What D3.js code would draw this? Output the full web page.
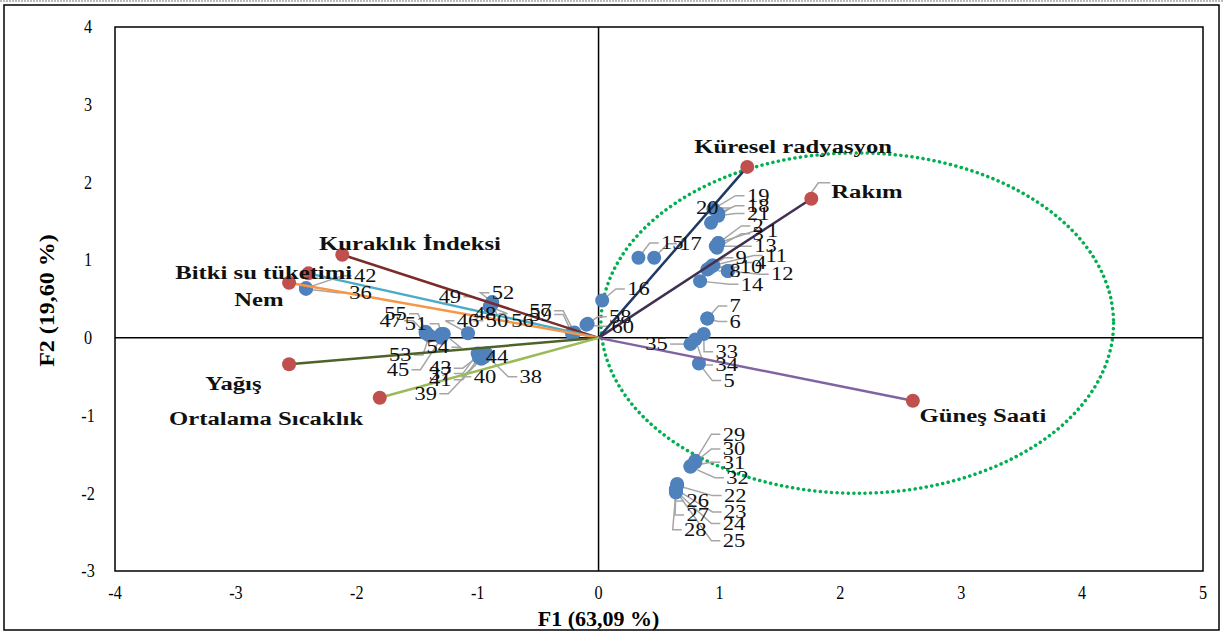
<!DOCTYPE html>
<html>
<head>
<meta charset="utf-8">
<script src="https://cdn.jsdelivr.net/npm/d3@7"></script>
<style>
  body { margin: 0; background: #fff; }
  text { font-family: "Liberation Serif", "Times New Roman", serif; }
</style>
</head>
<body>
<div id="chart"></div>
<script>
//Data

// observations (F1, F2) and their label anchors
var obsIds = d3.range(1, 61);
var obsF1 = [0.99,0.99,0.98,0.90,0.83,0.90,0.90,1.07,0.94,0.92,0.95,1.07,0.97,0.84,0.33,0.03,0.46,0.99,0.95,0.93,
             0.99,0.65,0.64,0.64,0.64,0.65,0.64,0.64,0.80,0.80,0.76,0.76,0.87,0.80,0.76,-2.42,-1.00,-0.93,-0.97,-0.95,
             -0.99,-2.42,-0.99,-0.93,-1.30,-1.08,-1.43,-0.90,-0.88,-0.90,-1.30,-0.88,-1.40,-1.28,-1.43,-0.88,-0.20,-0.09,-0.22,-0.10];
var obsF2 = [1.22,1.22,1.16,0.88,-0.33,0.25,0.25,0.86,0.93,0.90,0.93,0.86,1.18,0.73,1.03,0.48,1.03,1.60,1.66,1.48,
             1.57,-1.90,-1.95,-1.97,-1.97,-1.88,-1.95,-1.99,-1.58,-1.60,-1.65,-1.66,0.05,-0.02,-0.08,0.63,-0.20,-0.22,-0.27,-0.25,
             -0.25,0.64,-0.23,-0.20,0.00,0.06,0.06,0.40,0.44,0.40,0.05,0.46,0.03,0.05,0.08,0.44,0.07,0.18,0.06,0.17];
var obsLabelX = [1.44,1.32,1.32,1.34,1.08,1.13,1.13,1.13,1.18,1.26,1.47,1.52,1.38,1.27,0.61,0.33,0.76,1.32,1.32,0.90,
                 1.32,1.13,1.13,1.12,1.12,0.82,0.82,0.80,1.12,1.12,1.12,1.15,1.06,1.06,0.48,-1.97,-1.31,-0.56,-1.43,-0.94,
                 -1.31,-1.93,-1.31,-0.84,-1.66,-1.08,-1.72,-0.94,-1.23,-0.84,-1.51,-0.79,-1.64,-1.33,-1.68,-0.63,-0.48,0.18,-0.48,0.20];
var obsLabelY = [1.38,1.44,1.34,0.97,-0.55,0.21,0.41,0.86,1.03,0.91,1.06,0.82,1.18,0.69,1.22,0.63,1.21,1.70,1.83,1.67,
                 1.60,-2.03,-2.24,-2.39,-2.61,-2.10,-2.28,-2.47,-1.24,-1.43,-1.60,-1.80,-0.18,-0.35,-0.08,0.58,-0.46,-0.50,-0.72,-0.50,
                 -0.54,0.80,-0.39,-0.24,-0.41,0.22,0.22,0.31,0.53,0.22,0.18,0.58,-0.22,-0.12,0.31,0.22,0.35,0.27,0.30,0.15];

// variables (loadings)
var varNames = ["Küresel radyasyon","Rakım","Güneş Saati","Kuraklık İndeksi","Bitki su tüketimi","Nem","Yağış","Ortalama Sıcaklık"];
var varF1 = [1.23, 1.76, 2.60, -2.12, -2.40, -2.56, -2.56, -1.81];
var varF2 = [2.20, 1.79, -0.81, 1.07, 0.83, 0.71, -0.34, -0.77];
var varColors = ["#1f3864","#403152","#8064a2","#7b2c2a","#4bacc6","#f79646","#4f6228","#9bbb59"];
var varLabelX = [1.61, 2.22, 3.18, -1.56, -2.77, -2.81, -3.02, -2.75];
var varLabelY = [2.47, 1.89, -1.00, 1.22, 0.84, 0.50, -0.58, -1.04];

// confidence ellipse (center, radii)
var ellCenter = [2.14, 0.19];
var ellRadius = [2.12, 2.19];

var xTicks = [-4,-3,-2,-1,0,1,2,3,4,5];
var yTicks = [-3,-2,-1,0,1,2,3,4];

//Layout
var W = 1223, H = 634;
var plot = {left: 115, right: 1203, top: 27, bottom: 571};

var svg = d3.select("#chart").append("svg")
    .attr("width", W)
    .attr("height", H);

// text helper: place at (px,py) and stretch horizontally
function stretched(sel, sx) {
    sel.attr("transform", function(d){
        var p = this.__pos;
        return "translate(" + p[0] + "," + p[1] + ") scale(" + sx + ",1)";
    });
}

// outer frame
svg.append("line")
    .attr("x1", 0).attr("x2", W).attr("y1", 1).attr("y2", 1)
    .attr("stroke", "#777").attr("stroke-dasharray", "2,1");
svg.append("rect")
    .attr("x", 4).attr("y", 5).attr("width", W - 8).attr("height", H - 9)
    .attr("fill", "none").attr("stroke", "#000").attr("stroke-width", 1.5);

var x = d3.scaleLinear().domain([-4, 5]).range([plot.left, plot.right]);
var y = d3.scaleLinear().domain([-3, 4]).range([plot.bottom, plot.top]);

// plot border
svg.append("rect")
    .attr("x", plot.left).attr("y", plot.top)
    .attr("width", plot.right - plot.left).attr("height", plot.bottom - plot.top)
    .attr("fill", "none").attr("stroke", "#000").attr("stroke-width", 1.5);

// tick labels (condensed look)
svg.append("g").selectAll("text").data(yTicks).enter()
    .append("text")
    .attr("transform", function(d){ return "translate(88," + y(d) + ") scale(0.9,1)"; })
    .attr("dy", "0.35em")
    .attr("text-anchor", "middle")
    .style("font-size", "18px")
    .text(function(d){ return d; });
svg.append("g").selectAll("text").data(xTicks).enter()
    .append("text")
    .attr("transform", function(d){ return "translate(" + x(d) + ",599) scale(0.9,1)"; })
    .attr("text-anchor", "middle")
    .style("font-size", "18px")
    .text(function(d){ return d; });

// axis titles
svg.append("text")
    .attr("transform", "translate(" + x(0) + ",626) scale(1.1,1)")
    .attr("text-anchor", "middle")
    .style("font-size", "20px").style("font-weight", "bold")
    .text("F1 (63,09 %)");
svg.append("text")
    .attr("transform", "translate(54," + y(0.48) + ") rotate(-90) scale(1.2,1)")
    .attr("text-anchor", "middle")
    .style("font-size", "20px").style("font-weight", "bold")
    .text("F2 (19,60 %)");

// dotted ellipse
svg.append("ellipse")
    .attr("cx", x(ellCenter[0])).attr("cy", y(ellCenter[1]))
    .attr("rx", x(ellCenter[0] + ellRadius[0]) - x(ellCenter[0]))
    .attr("ry", y(ellCenter[1]) - y(ellCenter[1] + ellRadius[1]))
    .attr("fill", "none")
    .attr("stroke", "#00b050")
    .attr("stroke-width", 3.5)
    .attr("stroke-linecap", "round")
    .attr("stroke-dasharray", "0.1,5.5");

// zero lines
svg.append("line")
    .attr("x1", plot.left).attr("x2", plot.right)
    .attr("y1", y(0)).attr("y2", y(0))
    .attr("stroke", "#000").attr("stroke-width", 1.5);
svg.append("line")
    .attr("x1", x(0)).attr("x2", x(0))
    .attr("y1", plot.top).attr("y2", plot.bottom)
    .attr("stroke", "#000").attr("stroke-width", 1.5);

var obs = obsIds.map(function(id, i){
    return {id: id, f1: obsF1[i], f2: obsF2[i], lx: obsLabelX[i], ly: obsLabelY[i]};
});
var vars = varNames.map(function(n, i){
    return {name: n, f1: varF1[i], f2: varF2[i], color: varColors[i], lx: varLabelX[i], ly: varLabelY[i]};
});

// leader lines for observation labels (end at the label edge)
svg.append("g").selectAll("polyline").data(obs).enter()
    .append("polyline")
    .attr("points", function(d){
        var px = x(d.f1), py = y(d.f2);
        var lx = x(d.lx), ly = y(d.ly);
        var dir = lx >= px ? -1 : 1;
        var half = String(d.id).length * 5.8 + 2;
        var ex = lx + dir * half;
        return [[px, py], [ex + dir * 9, ly], [ex, ly]].map(function(p){ return p.join(","); }).join(" ");
    })
    .attr("fill", "none")
    .attr("stroke", "#a6a6a6")
    .attr("stroke-width", 1.5);

// observation points
svg.append("g").selectAll("circle").data(obs).enter()
    .append("circle")
    .attr("cx", function(d){ return x(d.f1); })
    .attr("cy", function(d){ return y(d.f2); })
    .attr("r", 7)
    .attr("fill", "#4f81bd");

// variable vectors
svg.append("g").selectAll("line").data(vars).enter()
    .append("line")
    .attr("x1", x(0)).attr("y1", y(0))
    .attr("x2", function(d){ return x(d.f1); })
    .attr("y2", function(d){ return y(d.f2); })
    .attr("stroke", function(d){ return d.color; })
    .attr("stroke-width", 2.5);

// leader for Rakım label
svg.append("polyline")
    .attr("points", [[x(varF1[1]), y(varF2[1]) - 6], [x(varF1[1]) + 7, y(varF2[1]) - 16], [x(varF1[1]) + 19, y(varF2[1]) - 16]]
        .map(function(p){ return p.join(","); }).join(" "))
    .attr("fill", "none").attr("stroke", "#a6a6a6").attr("stroke-width", 1.5);

svg.append("g").selectAll("circle").data(vars).enter()
    .append("circle")
    .attr("cx", function(d){ return x(d.f1); })
    .attr("cy", function(d){ return y(d.f2); })
    .attr("r", 7)
    .attr("fill", "#c0504d");

// observation labels
svg.append("g").selectAll("text").data(obs).enter()
    .append("text")
    .each(function(d){ this.__pos = [x(d.lx), y(d.ly)]; })
    .attr("dy", "0.35em")
    .attr("text-anchor", "middle")
    .style("font-size", "18px")
    .attr("fill", "#111")
    .text(function(d){ return d.id; })
    .call(stretched, 1.25);

// variable labels
svg.append("g").selectAll("text").data(vars).enter()
    .append("text")
    .each(function(d){ this.__pos = [x(d.lx), y(d.ly)]; })
    .attr("dy", "0.35em")
    .attr("text-anchor", "middle")
    .style("font-size", "19px")
    .style("font-weight", "bold")
    .attr("fill", "#111")
    .text(function(d){ return d.name; })
    .call(stretched, 1.3);
</script>
</body>
</html>
